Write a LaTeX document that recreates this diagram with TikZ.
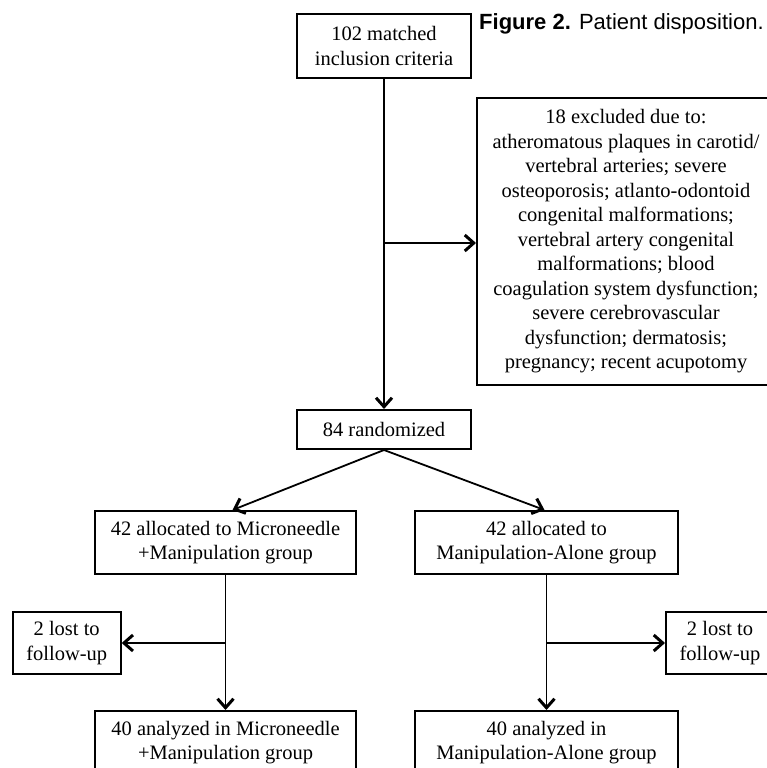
\documentclass[tikz,border=0pt]{standalone}
\usepackage{fontspec}
\setmainfont{Liberation Serif}
\newfontfamily\capfont{Liberation Sans}
\usetikzlibrary{positioning,arrows.meta,calc}
\tikzset{
  box/.style={draw, line width=2pt, align=center, inner sep=0pt,
    font=\fontsize{20.5}{24.5}\selectfont},
  link/.style={line width=1.8pt,
    -{Straight Barb[length=9pt,width=16pt,line width=3pt]}}
}
\begin{document}
\begin{tikzpicture}[x=1pt,y=1pt]
  \useasboundingbox (0,0) rectangle (767,-768);
  \clip (0,0) rectangle (767,-768);
  % boxes
  \node[box, minimum width=174pt, minimum height=64pt] (top) at (384,-46)
    {102 matched\\inclusion criteria};
  \node[anchor=base west, inner sep=0pt, font=\capfont\fontsize{22}{26}\selectfont]
    (cap) at (479,-30) {\textbf{Figure 2.} Patient disposition.};
  \node[box, minimum width=298pt, minimum height=287pt,
    below right=18pt and 4pt of top.south east] (excl)
    {18 excluded due to:\\
     atheromatous plaques in carotid/\\
     vertebral arteries; severe\\
     osteoporosis; atlanto-odontoid\\
     congenital malformations;\\
     vertebral artery congenital\\
     malformations; blood\\
     coagulation system dysfunction;\\
     severe cerebrovascular\\
     dysfunction; dermatosis;\\
     pregnancy; recent acupotomy};
  \node[box, minimum width=174pt, minimum height=39pt, below=330pt of top] (rand)
    {84 randomized};
  \node[box, minimum width=261pt, minimum height=63pt] (grpa) at (225.5,-542.5)
    {42 allocated to Microneedle\\+Manipulation group};
  \node[box, minimum width=263pt, minimum height=63pt, right=57pt of grpa] (grpb)
    {42 allocated to\\Manipulation-Alone group};
  \node[box, minimum width=108pt, minimum height=62pt] (losta) at (66.7,-643)
    {2 lost to\\follow-up};
  \node[box, minimum width=108pt, minimum height=62pt] (lostb) at (720,-643)
    {2 lost to\\follow-up};
  \node[box, minimum width=261pt, minimum height=63pt, below=135pt of grpa] (anla)
    {40 analyzed in Microneedle\\+Manipulation group};
  \node[box, minimum width=263pt, minimum height=63pt, below=135pt of grpb] (anlb)
    {40 analyzed in\\Manipulation-Alone group};
  % connectors
  \coordinate (ex) at (top.south |- 0,-243);
  \draw[link] (top) -- (rand);
  \draw[link] (ex) -- (ex -| excl.west);
  \draw[link] (rand.south) -- ([xshift=7pt]grpa.north);
  \draw[link] (rand.south) -- ([xshift=-2pt]grpb.north);
  \draw[link] (grpa) -- (anla);
  \draw[link] (grpb) -- (anlb);
  \coordinate (la) at (grpa.south |- losta);
  \coordinate (lb) at (grpb.south |- lostb);
  \draw[link] (la) -- (losta.east);
  \draw[link] (lb) -- (lostb.west);
\end{tikzpicture}
\end{document}
